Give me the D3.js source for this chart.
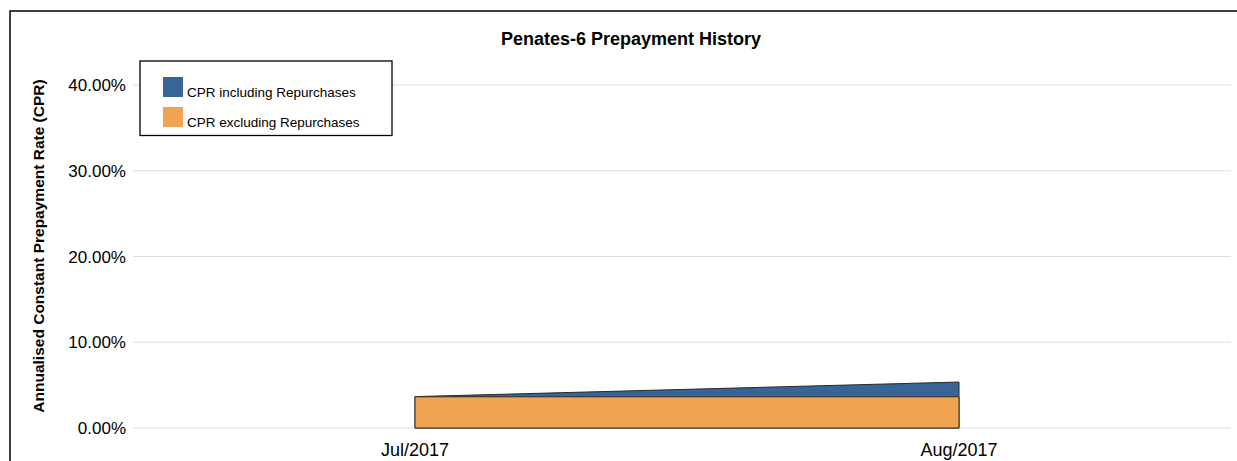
<!DOCTYPE html>
<html>
<head>
<meta charset="utf-8">
<script src="https://cdn.jsdelivr.net/npm/d3@7"></script>
<style>
  body { margin: 0; background: #fff; }
  svg { display: block; font-family: "Liberation Sans", Arial, sans-serif; }
</style>
</head>
<body>
<svg width="1237" height="461"></svg>
<script>
// chart data
const months = ['Jul/2017', 'Aug/2017'];
const cprIncl = [3.66, 5.36];
const cprExcl = [3.64, 3.64];
const yTicks = [0, 10, 20, 30, 40];
const seriesNames = ['CPR including Repurchases', 'CPR excluding Repurchases'];
const seriesColors = ['#386496', '#f0a350'];

const svg = d3.select('svg');

// outer frame, runs off the right / bottom edge like the original
svg.append('rect')
  .attr('x', 10).attr('y', 11).attr('width', 1260).attr('height', 480)
  .attr('fill', 'none').attr('stroke', '#000').attr('stroke-width', 1.5);

const plot = { left: 133, right: 1231, top: 85, bottom: 428 };

// categories sit a little right of centre in the original
const x = d3.scalePoint().domain(months).range([143, plot.right]).padding(0.5);
const y = d3.scaleLinear().domain([0, 40]).range([plot.bottom, plot.top]);

// gridlines
svg.append('g').selectAll('line').data(yTicks).join('line')
  .attr('x1', plot.left).attr('x2', plot.right)
  .attr('y1', d => y(d)).attr('y2', d => y(d))
  .attr('stroke', '#dcdce8').attr('stroke-width', 1.2);

// y tick labels
svg.append('g').selectAll('text').data(yTicks).join('text')
  .attr('x', 126).attr('y', d => y(d) + 6)
  .attr('text-anchor', 'end')
  .attr('font-size', 17).attr('fill', '#000')
  .text(d => d.toFixed(2) + '%');

// x tick labels
svg.append('g').selectAll('text').data(months).join('text')
  .attr('x', d => x(d)).attr('y', 456)
  .attr('text-anchor', 'middle')
  .attr('font-size', 18).attr('fill', '#000')
  .text(d => d);

// areas - including drawn behind, excluding in front
const rows = months.map((m, i) => ({ m: m, incl: cprIncl[i], excl: cprExcl[i] }));

const areaIncl = d3.area().x(d => x(d.m)).y0(y(0)).y1(d => y(d.incl));
const areaExcl = d3.area().x(d => x(d.m)).y0(y(0)).y1(d => y(d.excl));

svg.append('path').datum(rows)
  .attr('d', areaIncl)
  .attr('fill', seriesColors[0]).attr('stroke', '#2a2a2a').attr('stroke-width', 1);
svg.append('path').datum(rows)
  .attr('d', areaExcl)
  .attr('fill', seriesColors[1]).attr('stroke', '#2a2a2a').attr('stroke-width', 1);

// title
svg.append('text')
  .attr('x', 631).attr('y', 45)
  .attr('text-anchor', 'middle')
  .attr('font-size', 18).attr('font-weight', 'bold')
  .text('Penates-6 Prepayment History');

// y axis title
svg.append('text')
  .attr('transform', 'translate(44,246) rotate(-90)')
  .attr('text-anchor', 'middle')
  .attr('font-size', 15.5).attr('font-weight', 'bold')
  .text('Annualised Constant Prepayment Rate (CPR)');

// legend
const legend = svg.append('g');
legend.append('rect')
  .attr('x', 140).attr('y', 61).attr('width', 252).attr('height', 74.5)
  .attr('fill', '#fff').attr('stroke', '#000').attr('stroke-width', 1.3);

const items = legend.selectAll('g.item').data(seriesNames).join('g')
  .attr('class', 'item')
  .attr('transform', (d, i) => 'translate(163,' + (77 + i * 30) + ')');
items.append('rect')
  .attr('width', 20).attr('height', 20)
  .attr('fill', (d, i) => seriesColors[i]);
items.append('text')
  .attr('x', 24).attr('y', 19.5)
  .attr('font-size', 13.5).attr('fill', '#000')
  .text(d => d);
</script>
</body>
</html>
